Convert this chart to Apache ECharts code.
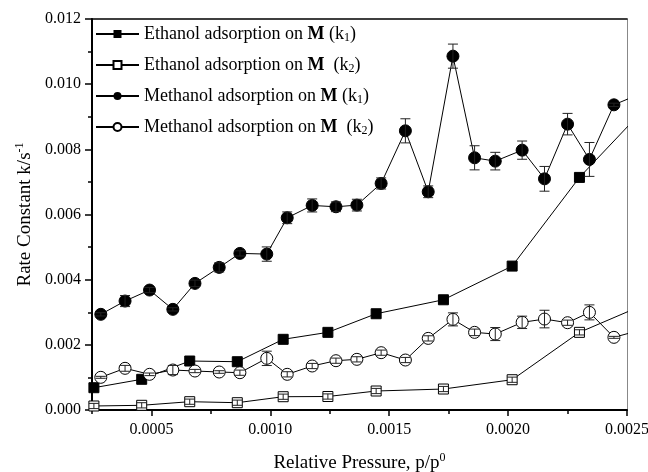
<!DOCTYPE html>
<html><head><meta charset="utf-8">
<script src="https://cdn.jsdelivr.net/npm/echarts@6/dist/echarts.min.js"></script>
<style>html,body{margin:0;padding:0;background:#fff}#c{width:648px;height:472px}</style>
</head><body><div id="c"></div>
<script>
// Ethanol (shared x positions for k1 and k2); last point lies beyond the axis and is clipped
const xEth = [0.000258,0.000459,0.000661,0.000861,0.001054,0.001242,0.001445,0.001728,0.002017,0.0023,0.0026];
const ethK1 = [0.000684,0.000942,0.001503,0.001482,0.002169,0.002383,0.002954,0.003383,0.004417,0.007138,0.00945];
const ethK2 = [0.000123,0.000144,0.000255,0.000224,0.000408,0.000414,0.000583,0.000644,0.000929,0.002383,0.00332];
const ethK2Err = [0.00008,0.00008,0.00008,0.00008,0.00008,0.00008,0.00008,0.00008,0.00008,0.00008,0];
// Methanol (shared x positions for k1 and k2)
const xMeth = [0.000287,0.000389,0.000492,0.00059,0.000683,0.000785,0.000872,0.000985,0.001071,0.001176,0.001276,0.001364,0.001466,0.001568,0.001664,0.001768,0.001859,0.001946,0.002059,0.002153,0.00225,0.002342,0.002445,0.0026];
const methK1 = [0.002936,0.003344,0.003681,0.003089,0.003886,0.004377,0.004806,0.004785,0.005899,0.006278,0.006237,0.006288,0.006953,0.008568,0.006697,0.01086,0.00774,0.007638,0.007975,0.007095,0.008773,0.00769,0.009366,0.00984];
const methK1Err = [0.00005,0.00017,0.00008,0.00005,0.0001,0.00014,0.00008,0.00022,0.00018,0.0002,0.00015,0.00018,0.00017,0.00037,0.00018,0.00037,0.00037,0.00027,0.00028,0.00038,0.00033,0.00052,0.00005,0];
const methK2 = [0.001003,0.001279,0.001095,0.001227,0.001196,0.001166,0.001145,0.001585,0.001095,0.00135,0.001513,0.001555,0.001759,0.001534,0.002198,0.002781,0.002383,0.002331,0.00269,0.002791,0.002679,0.002996,0.00223,0.00254];
const methK2Err = [0.00003,0.00009,0.00004,0.00014,0.00005,0.00004,0.00008,0.00022,0.00008,0.00008,0.00008,0.00008,0.00008,0.00008,0.00008,0.0002,0.0001,0.0002,0.00019,0.00027,0.00008,0.00023,0.00003,0];
// axis ticks
const xMajor = [0.0005,0.001,0.0015,0.002,0.0025];
const xMinor = [0.00025,0.00075,0.00125,0.00175,0.00225];
const names = ['Ethanol adsorption on M (k1)','Ethanol adsorption on M  (k2)','Methanol adsorption on M (k1)','Methanol adsorption on M  (k2)'];

const FONT = 'Liberation Serif';
const pairs = (xs, ys) => xs.map((x,i)=>[x, ys[i]]);
const errData = (xs, ys, es) => xs.map((x,i)=>[x, ys[i]-es[i], ys[i]+es[i]]).filter((d,i)=>es[i]>0 && xs[i]<=0.0025);

function errRender(params, api){
  const x = api.value(0), lo = api.value(1), hi = api.value(2);
  const a = api.coord([x, hi]), b = api.coord([x, lo]);
  const hw = 5, st = {stroke:'#222', lineWidth:1};
  return {type:'group', children:[
    {type:'line', shape:{x1:a[0],y1:a[1],x2:b[0],y2:b[1]}, style:st},
    {type:'line', shape:{x1:a[0]-hw,y1:a[1],x2:a[0]+hw,y2:a[1]}, style:st},
    {type:'line', shape:{x1:b[0]-hw,y1:b[1],x2:b[0]+hw,y2:b[1]}, style:st}
  ]};
}

const lineBase = {type:'line', symbolSize:11, showSymbol:true, clip:true, animation:false,
  lineStyle:{color:'#000', width:1}};

const chart = echarts.init(document.getElementById('c'), null, {renderer:'canvas'});
chart.setOption({
  animation:false,
  grid:{left:92, right:21, top:19, bottom:62, show:false, containLabel:false, outerBoundsMode:'none'},
  legend:{
    orient:'vertical', left:90, top:19, itemWidth:43, itemHeight:10, itemGap:11,
    data:names, selectedMode:false,
    textStyle:{fontFamily:FONT, fontSize:18, color:'#000',
      rich:{
        n:{fontFamily:FONT, fontSize:18, color:'#000', lineHeight:20},
        b:{fontFamily:FONT, fontSize:18, color:'#000', fontWeight:'bold', lineHeight:20},
        s:{fontFamily:FONT, fontSize:12, color:'#000', lineHeight:20, padding:[8,0,0,0]}
      }},
    formatter:function(name){
      const i = names.indexOf(name);
      const sp = (i===1||i===3) ? '  (k' : ' (k';
      const pre = i<2 ? 'Ethanol adsorption on ' : 'Methanol adsorption on ';
      return '{n|'+pre+'}{b|M}{n|'+sp+'}{s|'+(i%2===0?'1':'2')+'}{n|)}';
    }
  },
  xAxis:[{
    type:'value', min:0.00025, max:0.0025,
    axisLine:{show:true, lineStyle:{color:'#000', width:2}},
    axisTick:{show:true, inside:false, length:6, lineStyle:{color:'#000', width:1.5}, customValues:xMajor},
    axisLabel:{fontFamily:FONT, fontSize:16, color:'#000', margin:12, customValues:xMajor,
      formatter:v=>v.toFixed(4)},
    splitLine:{show:false},
    name:'{t|Relative Pressure, p/p}{u|0}', nameLocation:'middle', nameGap:42,
    nameTextStyle:{rich:{t:{fontFamily:FONT, fontSize:19, color:'#000'}, u:{fontFamily:FONT, fontSize:12, color:'#000', padding:[0,0,10,0]}}}
  },{
    type:'value', min:0.00025, max:0.0025, position:'bottom',
    axisLine:{show:false}, axisLabel:{show:false}, splitLine:{show:false},
    axisTick:{show:true, length:4, lineStyle:{color:'#000', width:1.5}, customValues:xMinor}
  },{
    type:'value', min:0.00025, max:0.0025, position:'top',
    axisLine:{show:true, lineStyle:{color:'#000', width:1.5}}, axisLabel:{show:false}, axisTick:{show:false}, splitLine:{show:false}
  }],
  yAxis:[{
    type:'value', min:0, max:0.012, interval:0.002,
    axisLine:{show:true, lineStyle:{color:'#000', width:2}},
    axisTick:{show:true, length:7, lineStyle:{color:'#000', width:1.5}},
    minorTick:{show:true, splitNumber:2, length:4, lineStyle:{color:'#000', width:1.5}},
    axisLabel:{fontFamily:FONT, fontSize:16, color:'#000', margin:11, formatter:v=>v.toFixed(3)},
    splitLine:{show:false},
    name:'{t|Rate Constant k/s}{u|-1}', nameLocation:'middle', nameGap:49, nameRotate:90,
    nameTextStyle:{rich:{t:{fontFamily:FONT, fontSize:19, color:'#000'}, u:{fontFamily:FONT, fontSize:12, color:'#000', padding:[0,0,10,0]}}}
  },{
    type:'value', min:0, max:0.012, position:'right',
    axisLine:{show:true, lineStyle:{color:'#888', width:1}}, axisLabel:{show:false}, axisTick:{show:false}, splitLine:{show:false}
  }],
  series:[
    Object.assign({}, lineBase, {name:names[0], symbol:'rect', symbolSize:10, z:3,
      itemStyle:{color:'#000', borderColor:'#000'}, data:pairs(xEth, ethK1)}),
    Object.assign({}, lineBase, {name:names[1], symbol:'rect', symbolSize:10, z:3,
      itemStyle:{color:'#fff', borderColor:'#000', borderWidth:1}, data:pairs(xEth, ethK2)}),
    Object.assign({}, lineBase, {name:names[2], symbol:'circle', symbolSize:12, z:3,
      itemStyle:{color:'#000', borderColor:'#000'}, data:pairs(xMeth, methK1)}),
    Object.assign({}, lineBase, {name:names[3], symbol:'circle', symbolSize:12, z:3,
      itemStyle:{color:'#fff', borderColor:'#000', borderWidth:1}, data:pairs(xMeth, methK2)}),
    {type:'custom', renderItem:errRender, z:4, encode:{x:0, y:[1,2]}, data:errData(xEth, ethK2, ethK2Err)},
    {type:'custom', renderItem:errRender, z:4, encode:{x:0, y:[1,2]}, data:errData(xMeth, methK1, methK1Err)},
    {type:'custom', renderItem:errRender, z:4, encode:{x:0, y:[1,2]}, data:errData(xMeth, methK2, methK2Err)}
  ]
});
</script></body></html>
